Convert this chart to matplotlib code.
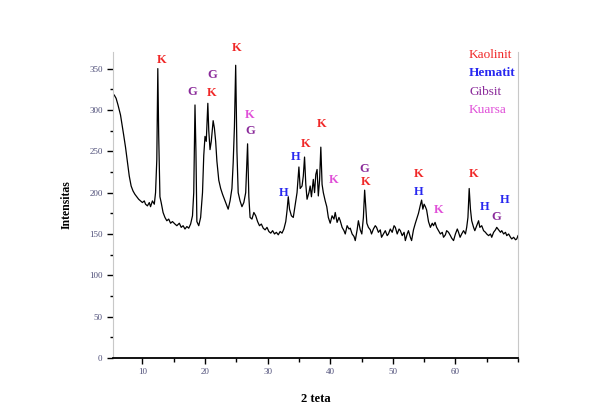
import matplotlib
matplotlib.use("Agg")
import matplotlib.pyplot as plt
from matplotlib.ticker import MultipleLocator

plt.rcParams['font.family'] = ['Liberation Serif', 'DejaVu Serif']

two_theta = [5.5, 5.8, 6.1, 6.3, 6.5, 6.8, 7.0, 7.3, 7.5, 7.7, 7.9, 8.2, 8.5, 8.8, 9.1, 9.4, 9.7, 10.0,
             10.3, 10.5, 10.8, 11.1, 11.3, 11.6, 11.9, 12.1, 12.3, 12.46, 12.6, 12.8, 13.0, 13.3, 13.6,
             13.9, 14.2, 14.5, 14.8, 15.2, 15.5, 15.9, 16.2, 16.5, 16.8, 17.1, 17.4, 17.7, 18.0, 18.2,
             18.4, 18.55, 18.7, 19.0, 19.3, 19.6, 19.8, 20.0, 20.2, 20.45, 20.6, 20.8, 21.0, 21.3, 21.5,
             21.7, 21.9, 22.2, 22.5, 22.8, 23.1, 23.4, 23.7, 24.0, 24.3, 24.5, 24.7, 24.9, 25.1, 25.3,
             25.6, 25.9, 26.2, 26.5, 26.8, 27.0, 27.2, 27.5, 27.8, 28.1, 28.4, 28.7, 29.0, 29.3, 29.6,
             29.9, 30.2, 30.5, 30.8, 31.1, 31.4, 31.7, 32.0, 32.3, 32.6, 32.9, 33.1, 33.3, 33.5, 33.8,
             34.1, 34.4, 34.7, 35.0, 35.2, 35.5, 35.7, 35.9, 36.1, 36.3, 36.6, 36.8, 37.0, 37.3, 37.5,
             37.7, 37.9, 38.1, 38.3, 38.5, 38.7, 38.9, 39.2, 39.45, 39.7, 40.0, 40.3, 40.6, 40.8, 41.1,
             41.4, 41.6, 41.9, 42.2, 42.4, 42.7, 43.0, 43.2, 43.5, 43.8, 44.0, 44.3, 44.5, 44.8, 45.05,
             45.3, 45.5, 45.7, 45.85, 46.1, 46.4, 46.6, 46.9, 47.2, 47.4, 47.7, 48.0, 48.2, 48.5, 48.8,
             49.1, 49.3, 49.6, 49.9, 50.2, 50.4, 50.7, 51.0, 51.2, 51.5, 51.8, 52.0, 52.3, 52.5, 52.8,
             53.0, 53.3, 53.6, 53.9, 54.1, 54.4, 54.6, 54.8, 55.0, 55.2, 55.4, 55.7, 56.0, 56.3, 56.5,
             56.75, 57.0, 57.3, 57.6, 57.9, 58.1, 58.4, 58.6, 58.9, 59.2, 59.4, 59.7, 60.0, 60.3, 60.5,
             60.75, 61.0, 61.3, 61.6, 61.8, 62.0, 62.2, 62.4, 62.6, 62.9, 63.1, 63.4, 63.7, 63.9, 64.2,
             64.5, 64.8, 65.0, 65.3, 65.6, 65.8, 66.1, 66.4, 66.6, 66.9, 67.2, 67.4, 67.7, 68.0, 68.2,
             68.5, 68.8, 69.0, 69.3, 69.6, 69.8, 70.0]

intensity = [318, 314, 306, 300, 294, 280, 270, 255, 243, 230, 220, 208, 202, 198, 195, 192, 190, 188,
             190, 186, 184, 188, 183, 190, 186, 200, 240, 350, 270, 195, 188, 176, 170,
             166, 168, 163, 165, 162, 160, 163, 158, 160, 156, 159, 157, 162, 172, 200,
             306, 250, 165, 160, 170, 200, 245, 268, 262, 308, 275, 252, 262, 287, 278,
             262, 238, 215, 205, 198, 192, 186, 180, 190, 205, 236, 280, 354, 250, 200,
             190, 183, 188, 200, 259, 195, 170, 168, 176, 172, 165, 160, 162, 157, 155,
             158, 153, 151, 154, 150, 152, 149, 153, 151, 156, 165, 178, 195, 180, 172,
             170, 185, 200, 231, 205, 208, 220, 243, 210, 192, 200, 208, 195, 216, 200,
             222, 228, 196, 215, 255, 210, 200, 190, 183, 170, 163, 172, 168, 176, 164,
             170, 166, 158, 154, 150, 160, 156, 157, 150, 147, 142, 155, 166, 155, 150,
             170, 203, 180, 163, 158, 155, 150, 156, 160, 158, 152, 155, 146, 150, 154,
             148, 150, 156, 152, 160, 158, 150, 156, 154, 148, 152, 142, 150, 154, 146,
             142, 155, 163, 170, 175, 185, 191, 180, 186, 183, 179, 165, 158, 163, 160,
             164, 158, 154, 150, 152, 146, 149, 154, 152, 148, 145, 142, 150, 156, 152,
             146, 150, 154, 150, 158, 170, 205, 180, 166, 158, 154, 160, 166, 158, 160,
             154, 152, 150, 148, 150, 146, 152, 155, 158, 155, 152, 154, 150, 152, 148,
             150, 146, 144, 146, 143, 144, 148]

peak_labels = ['K', 'G', 'G', 'K', 'K', 'K', 'G', 'H', 'H', 'K', 'K', 'K', 'G', 'K',
               'K', 'H', 'K', 'K', 'H', 'G', 'H']
peak_x = [13.0, 18.0, 21.1, 21.1, 25.1, 27.2, 27.2, 32.5, 34.4, 36.1, 38.65, 40.5, 45.4, 45.7,
          54.1, 54.1, 57.3, 62.9, 64.6, 66.6, 67.9]
peak_y = [360, 322, 342, 320, 375, 294, 275, 199, 243, 259, 283, 215, 229, 213,
          223, 201, 179, 223, 183, 170, 191]
peak_phase = ['Kaolinit', 'Gibsit', 'Gibsit', 'Kaolinit', 'Kaolinit', 'Kuarsa', 'Gibsit', 'Hematit',
              'Hematit', 'Kaolinit', 'Kaolinit', 'Kuarsa', 'Gibsit', 'Kaolinit',
              'Kaolinit', 'Hematit', 'Kuarsa', 'Kaolinit', 'Hematit', 'Gibsit', 'Hematit']

legend_names = ['Kaolinit', 'Hematit', 'Gibsit', 'Kuarsa']
legend_colors = ['#f02828', '#2828f0', '#8a2a9a', '#e050d8']
legend_weights = ['normal', 'bold', 'normal', 'normal']
phase_color = dict(zip(legend_names, legend_colors))

fig = plt.figure(figsize=(5.9, 4.18), dpi=100)
ax = fig.add_axes([0.1915, 0.1435, 0.878 - 0.1915, 0.732])

ax.plot(two_theta, intensity, color='black', lw=0.9)

for lab, x, y, ph in zip(peak_labels, peak_x, peak_y, peak_phase):
    ax.text(x, y, lab, color=phase_color[ph], fontsize=9, fontweight='bold',
            ha='center', va='center', clip_on=False)

for i, (name, col, w) in enumerate(zip(legend_names, legend_colors, legend_weights)):
    fig.text(469 / 590, 1 - (55 + 18.3 * i) / 418, name, color=col, fontsize=9.5,
             fontweight=w, ha='left', va='center')

ax.set_xlim(5.3, 70)
ax.set_ylim(0, 370)
ax.xaxis.set_major_locator(MultipleLocator(10))
ax.xaxis.set_minor_locator(MultipleLocator(5))
ax.yaxis.set_major_locator(MultipleLocator(50))
ax.yaxis.set_minor_locator(MultipleLocator(25))
ax.set_xticks([10, 20, 30, 40, 50, 60])
ax.set_yticks([0, 50, 100, 150, 200, 250, 300, 350])
ax.tick_params(which='major', direction='out', length=4, width=1.0, labelsize=6.5,
               labelcolor='#50507a', color='black')
ax.tick_params(which='minor', direction='out', length=2, width=1.0, color='black')
ax.tick_params(axis='x', which='minor', length=3)

ax.spines['top'].set_visible(False)
ax.spines['left'].set_color('#c8c8c8')
ax.spines['right'].set_color('#c8c8c8')
ax.spines['bottom'].set_color('black')
ax.spines['bottom'].set_linewidth(1.3)

ax.set_xlabel('2 teta', fontsize=9, fontweight='bold', labelpad=12)
ax.set_ylabel('Intensitas', fontsize=8.5, fontweight='bold', labelpad=12)

fig.savefig('out.png', dpi=100)
